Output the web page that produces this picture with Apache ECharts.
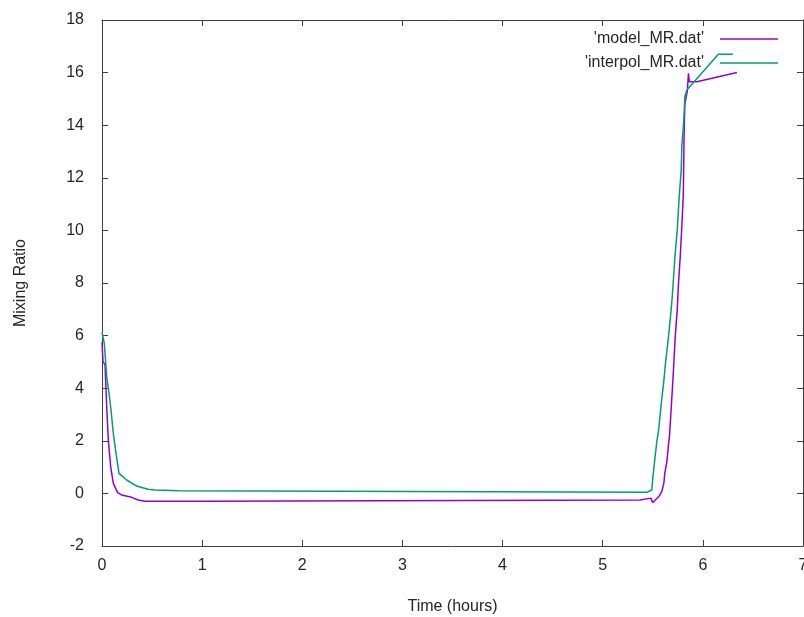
<!DOCTYPE html>
<html>
<head>
<meta charset="utf-8">
<script src="https://cdn.jsdelivr.net/npm/echarts@6/dist/echarts.min.js"></script>
<style>html,body{margin:0;padding:0;background:#fff}#c{width:804px;height:617px}</style>
</head>
<body>
<div id="c"></div>
<script>
const xTicks = [0, 1, 2, 3, 4, 5, 6, 7];
const yTicks = [-2, 0, 2, 4, 6, 8, 10, 12, 14, 16, 18];

const modelName = "'model_MR.dat'";
const interpName = "'interpol_MR.dat'";

const timeModel = [0, 0.01, 0.03, 0.047, 0.063, 0.087, 0.113, 0.156, 0.196, 0.296, 0.36, 0.43, 1.03, 1.04, 5.375, 5.38, 5.48, 5.50, 5.525, 5.56, 5.59, 5.61, 5.62, 5.64, 5.655, 5.667, 5.683, 5.703, 5.724, 5.744, 5.757, 5.774, 5.79, 5.805, 5.812, 5.82, 5.845, 5.856, 5.865, 5.94, 6.34];
const mrModel   = [5.75, 5.0, 4.9, 3.3, 2.03, 1.0, 0.38, 0.03, -0.06, -0.15, -0.25, -0.30, -0.30, -0.25, -0.25, -0.18, -0.18, -0.35, -0.25, -0.12, 0.07, 0.38, 0.76, 1.2, 1.78, 2.2, 3.17, 4.44, 5.96, 6.97, 7.99, 9.0, 10.14, 11.4, 13.5, 14.8, 15.3, 15.97, 15.65, 15.65, 16.0];

const timeInterp = [0, 0.023, 0.047, 0.07, 0.09, 0.113, 0.14, 0.17, 0.246, 0.345, 0.46, 0.53, 0.77, 0.78, 5.44, 5.45, 5.49, 5.50, 5.525, 5.54, 5.558, 5.585, 5.608, 5.63, 5.657, 5.68, 5.697, 5.71, 5.724, 5.744, 5.764, 5.784, 5.79, 5.81, 5.82, 5.84, 6.155, 6.30];
const mrInterp   = [6.12, 5.7, 4.44, 3.8, 3.17, 2.28, 1.52, 0.76, 0.51, 0.28, 0.16, 0.13, 0.10, 0.04, 0.04, 0.10, 0.13, 0.58, 1.46, 1.97, 2.4, 3.43, 4.19, 5.07, 5.96, 6.85, 7.6, 8.37, 9.13, 10.0, 11.28, 12.3, 13.2, 14.2, 15.08, 15.34, 16.7, 16.7];

const pairs = (xs, ys) => xs.map((x, i) => [x, ys[i]]);

const FONT = 'Liberation Sans';
const TXT = '#262626';
const LINE = '#404040';

const chart = echarts.init(document.getElementById('c'), null, {renderer: 'canvas'});

const axisCommon = {
  axisLine: {show: true, onZero: false, lineStyle: {color: LINE, width: 1}},
  axisTick: {show: true, inside: true, length: 6, lineStyle: {color: LINE}},
  splitLine: {show: false}
};

const legendCommon = {
  align: 'right', icon: 'rect', itemWidth: 58, itemHeight: 1.5, itemGap: 10,
  textStyle: {fontFamily: FONT, fontSize: 16, color: TXT, padding: [0, 11, 0, 0]}
};

chart.setOption({
  animation: false,
  backgroundColor: '#fff',
  grid: {left: 102, right: 1, top: 20, bottom: 71, containLabel: false, outerBoundsMode: 'none'},
  legend: [
    Object.assign({data: [modelName], right: 21, top: 26}, legendCommon),
    Object.assign({data: [interpName], right: 21, top: 50}, legendCommon)
  ],
  xAxis: [
    Object.assign({
      type: 'value', min: xTicks[0], max: xTicks[xTicks.length - 1], interval: 1, position: 'bottom',
      name: 'Time (hours)', nameLocation: 'middle', nameGap: 53,
      nameTextStyle: {fontFamily: FONT, fontSize: 16, color: TXT},
      axisLabel: {show: true, fontFamily: FONT, fontSize: 16, color: TXT, margin: 12}
    }, axisCommon),
    Object.assign({
      type: 'value', min: xTicks[0], max: xTicks[xTicks.length - 1], interval: 1, position: 'top',
      axisLabel: {show: false}
    }, axisCommon)
  ],
  yAxis: [
    Object.assign({
      type: 'value', min: yTicks[0], max: yTicks[yTicks.length - 1], interval: 2, position: 'left',
      name: 'Mixing Ratio', nameLocation: 'middle', nameGap: 73, nameRotate: 90,
      nameTextStyle: {fontFamily: FONT, fontSize: 16, color: TXT},
      axisLabel: {show: true, fontFamily: FONT, fontSize: 16, color: TXT, margin: 18}
    }, axisCommon),
    Object.assign({
      type: 'value', min: yTicks[0], max: yTicks[yTicks.length - 1], interval: 2, position: 'right',
      axisLabel: {show: false}
    }, axisCommon)
  ],
  series: [
    {name: modelName, type: 'line', xAxisIndex: 0, yAxisIndex: 0, data: pairs(timeModel, mrModel),
     symbol: 'none', showSymbol: false, color: '#9400d3', lineStyle: {color: '#9400d3', width: 1.5}},
    {name: interpName, type: 'line', xAxisIndex: 0, yAxisIndex: 0, data: pairs(timeInterp, mrInterp),
     symbol: 'none', showSymbol: false, color: '#009e73', lineStyle: {color: '#009e73', width: 1.5}}
  ]
});
</script>
</body>
</html>
